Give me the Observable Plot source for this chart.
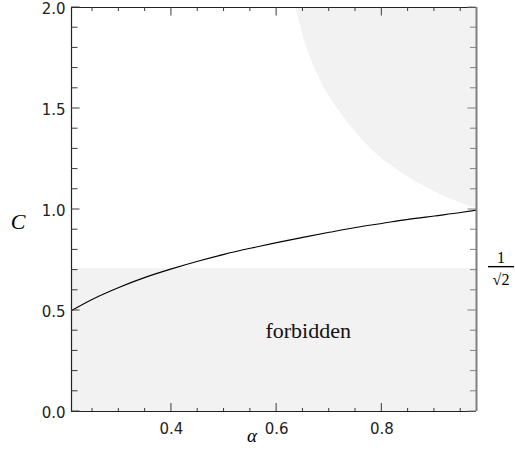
<!DOCTYPE html>
<html>
<head>
<meta charset="utf-8">
<script src="https://cdn.jsdelivr.net/npm/d3@7"></script>
<script src="https://cdn.jsdelivr.net/npm/@observablehq/plot@0.6"></script>
<style>
  body { margin: 0; background: #fff; }
  #chart svg { display: block; }
</style>
</head>
<body>
<div id="chart"></div>
<script>
// ---- data ----
const xDomain = [0.21, 0.98];
const yDomain = [0, 2];

// black curve C(alpha)
const curveAlpha = [0.21, 0.25, 0.30, 0.35, 0.40, 0.45, 0.50, 0.55, 0.60, 0.65, 0.70, 0.75, 0.80, 0.85, 0.90, 0.95, 0.98];
const curveC     = [0.50, 0.556, 0.614, 0.664, 0.706, 0.744, 0.778, 0.808, 0.836, 0.862, 0.887, 0.911, 0.931, 0.951, 0.968, 0.985, 0.997];

// boundary of the upper-right shaded region
const boundAlpha = [0.637, 0.653, 0.672, 0.697, 0.729, 0.776, 0.830, 0.894, 0.970, 0.98];
const boundC     = [2.0,   1.838, 1.706, 1.574, 1.452, 1.310, 1.195, 1.096, 1.013, 1.005];

// forbidden level 1/sqrt(2)
const forbiddenLevel = [Math.SQRT1_2];
const forbiddenText = ["forbidden"];
const forbiddenAt = {a: 0.66, c: 0.40};

// ticks
const xMajor = [0.4, 0.6, 0.8];
const xMinor = [0.25, 0.3, 0.35, 0.45, 0.5, 0.55, 0.65, 0.7, 0.75, 0.85, 0.9, 0.95];
const yMajor = [0, 0.5, 1.0, 1.5, 2.0];
const yMinor = [0.1, 0.2, 0.3, 0.4, 0.6, 0.7, 0.8, 0.9, 1.1, 1.2, 1.3, 1.4, 1.6, 1.7, 1.8, 1.9];

const xLabel = "α";
const yLabel = "C";
const fracNum = "1";
const fracDen = "√2";

// ---- tables ----
const curve = curveAlpha.map((a, i) => ({a, c: curveC[i]}));
const boundary = boundAlpha.map((a, i) => ({a, c: boundC[i]}));

const shade = "#f2f2f2";
const dark = "#222";
const tickCol = "#3a3a3a";
const gray = "#808080";
const ns = "http://www.w3.org/2000/svg";

// inward ticks on all four sides, placed with Plot's scales
function tickMarks(index, scales, values, dimensions) {
  const g = document.createElementNS(ns, "g");
  const {width, height, marginLeft, marginRight, marginTop, marginBottom} = dimensions;
  const L = marginLeft, R = width - marginRight, T = marginTop, B = height - marginBottom;
  const seg = (x1, y1, x2, y2, stroke, sw = 1) => {
    const el = document.createElementNS(ns, "line");
    el.setAttribute("x1", x1); el.setAttribute("y1", y1);
    el.setAttribute("x2", x2); el.setAttribute("y2", y2);
    el.setAttribute("stroke", stroke); el.setAttribute("stroke-width", sw);
    g.appendChild(el);
  };
  for (const v of xMajor) { const x = scales.x(v); seg(x, B, x, B - 8, tickCol); seg(x, T, x, T + 8.5, tickCol); }
  for (const v of xMinor) { const x = scales.x(v); seg(x, B, x, B - 3, tickCol); seg(x, T, x, T + 4, tickCol); }
  for (const v of yMajor) { const y = scales.y(v); seg(L, y, L + 8.5, y, tickCol); seg(R, y, R - 8.5, y, gray); }
  for (const v of yMinor) { const y = scales.y(v); seg(L, y, L + 6.5, y, tickCol); seg(R, y, R - 6, y, gray); }
  return g;
}

// the 1/sqrt(2) label beside the right axis, at the level of the forbidden region
function fractionMark(index, scales, values, dimensions) {
  const g = document.createElementNS(ns, "g");
  const y0 = scales.y(forbiddenLevel[0]);
  const cx = dimensions.width - dimensions.marginRight + 25;
  const mk = (tag, attrs, txt) => {
    const el = document.createElementNS(ns, tag);
    for (const k in attrs) el.setAttribute(k, attrs[k]);
    if (txt != null) el.textContent = txt;
    g.appendChild(el);
  };
  mk("line", {x1: cx - 13, x2: cx + 13, y1: y0 - 1.5, y2: y0 - 1.5, stroke: "#000", "stroke-width": 1.4});
  mk("text", {x: cx, y: y0 - 5, "text-anchor": "middle", "font-family": "Liberation Serif", "font-size": 16, fill: "#000"}, fracNum);
  mk("text", {x: cx, y: y0 + 16.5, "text-anchor": "middle", "font-family": "Liberation Serif", "font-size": 16, fill: "#000"}, fracDen);
  return g;
}

const chart = Plot.plot({
  width: 515,
  height: 454,
  marginLeft: 71,
  marginRight: 39,
  marginTop: 7,
  marginBottom: 43,
  x: {domain: xDomain},
  y: {domain: yDomain},
  style: {fontFamily: "DejaVu Sans", fontSize: "15px", background: "#fff", color: dark},
  marks: [
    // shaded regions
    Plot.rect(forbiddenLevel, {x1: () => xDomain[0], x2: () => xDomain[1], y1: () => yDomain[0], y2: d => d, fill: shade}),
    Plot.areaY(boundary, {x: "a", y1: "c", y2: () => yDomain[1], fill: shade, curve: "monotone-x"}),
    // curve
    Plot.line(curve, {x: "a", y: "c", stroke: "#000", strokeWidth: 1.1, curve: "monotone-x"}),
    // annotation
    Plot.text(forbiddenText, {x: () => forbiddenAt.a, y: () => forbiddenAt.c, text: d => d,
      fontFamily: "Liberation Serif", fontSize: 22, fill: "#111", letterSpacing: "0.8px"}),
    // frame lines
    Plot.ruleY([yDomain[1]], {stroke: dark, strokeWidth: 1}),
    Plot.ruleY([yDomain[0]], {stroke: dark, strokeWidth: 1.2}),
    Plot.ruleX([xDomain[0]], {stroke: dark, strokeWidth: 1.2}),
    Plot.ruleX([xDomain[1]], {stroke: gray, strokeWidth: 2}),
    tickMarks,
    // tick labels
    Plot.axisX(xMajor, {anchor: "bottom", tickSize: 0, tickPadding: 12, tickFormat: d3.format(".1f"), label: null, fill: dark}),
    Plot.axisY(yMajor, {anchor: "left", tickSize: 0, tickPadding: 6, dy: 1.5, tickFormat: d3.format(".1f"), label: null, fill: dark}),
    // axis titles
    Plot.text([xLabel], {frameAnchor: "bottom", dx: -22, dy: 30, text: d => d, textAnchor: "middle",
      fontFamily: "Liberation Serif", fontStyle: "italic", fontSize: 19, fill: "#000"}),
    Plot.text([yLabel], {frameAnchor: "left", dx: -53.5, dy: 12.5, text: d => d, textAnchor: "middle",
      fontFamily: "Liberation Serif", fontStyle: "italic", fontSize: 22, fill: "#000"}),
    // 1/sqrt(2) label at the right
    fractionMark
  ]
});

document.getElementById("chart").appendChild(chart);
</script>
</body>
</html>
